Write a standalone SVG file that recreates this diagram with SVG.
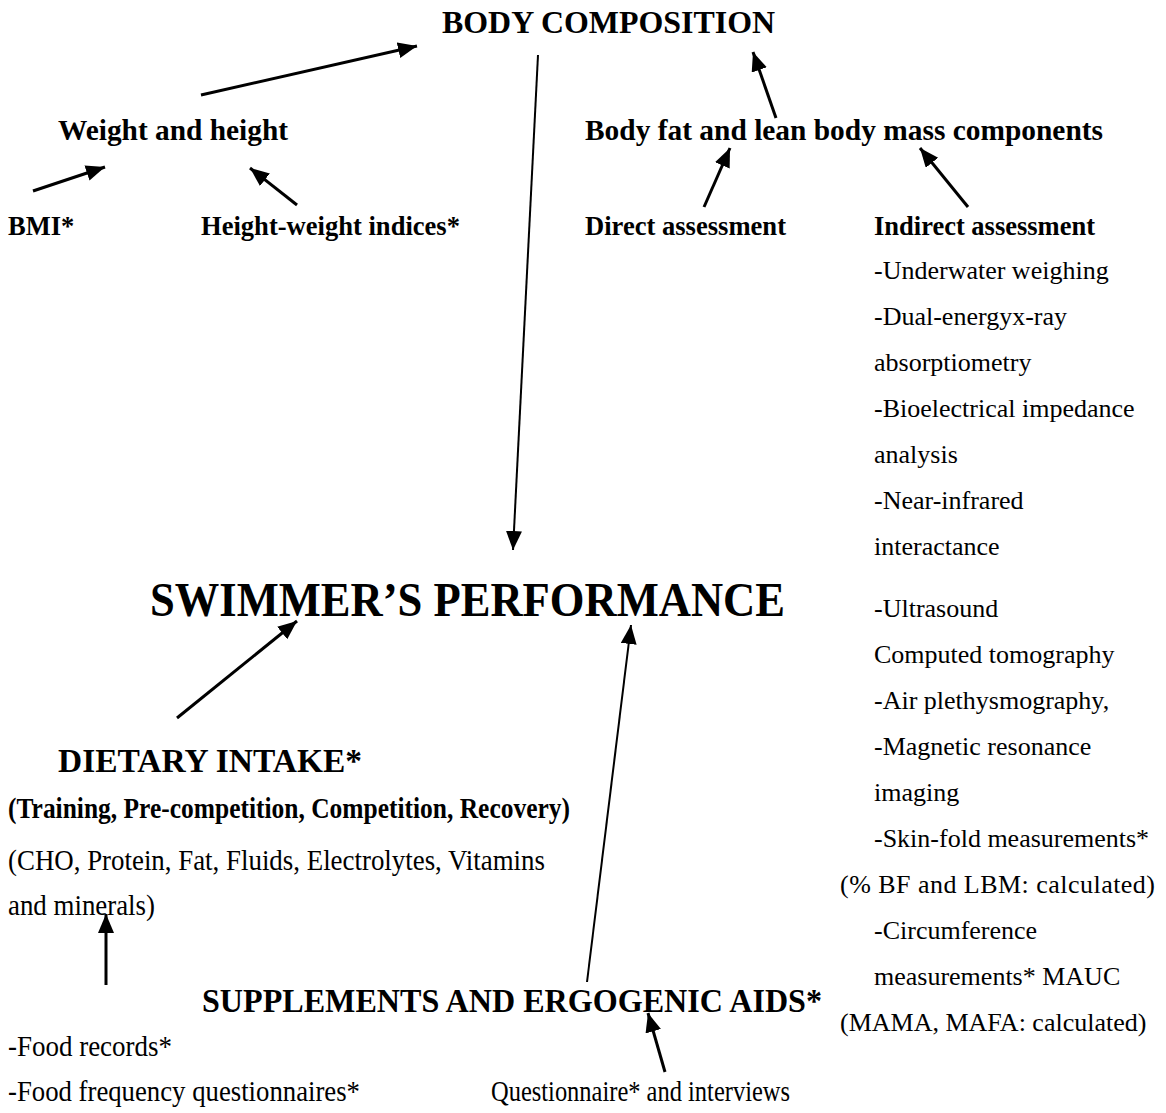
<svg xmlns="http://www.w3.org/2000/svg" width="1166" height="1113" viewBox="0 0 1166 1113">
<defs>
<marker id="ah" markerUnits="userSpaceOnUse" markerWidth="22" markerHeight="18" refX="19" refY="8" orient="auto">
<path d="M0,0 L19,8 L0,16 z" fill="#000"/>
</marker>
<style>
text{font-family:"Liberation Serif","Times New Roman",serif;fill:#000}
.b{font-weight:bold}
.h1{font-size:32px;font-weight:bold}
.h2{font-size:29px;font-weight:bold}
.h3{font-size:26.5px;font-weight:bold}
.big{font-size:49px;font-weight:bold}
.sec{font-size:33px;font-weight:bold}
.t{font-size:26px}
.n{font-size:29px}
.c{stroke:#000;stroke-width:3;fill:none;marker-end:url(#ah)}
.thin{stroke-width:2}
</style>
</defs>
<rect width="1166" height="1113" fill="#fff"/>
<g id="connectors">
<line class="c" x1="201" y1="95" x2="417" y2="46"/>
<line class="c" x1="33" y1="191" x2="105" y2="167"/>
<line class="c" x1="297" y1="205" x2="250" y2="168"/>
<line class="c thin" x1="538" y1="55" x2="513" y2="550"/>
<line class="c" x1="776" y1="118" x2="753" y2="52"/>
<line class="c" x1="704" y1="207" x2="730" y2="148"/>
<line class="c" x1="968" y1="207" x2="920" y2="148"/>
<line class="c" x1="177" y1="718" x2="297" y2="621"/>
<line class="c thin" x1="587" y1="982" x2="631" y2="625"/>
<line class="c" x1="106" y1="985" x2="106" y2="914"/>
<line class="c" x1="665" y1="1072" x2="648" y2="1013"/>
</g>
<g id="body-composition"><text class="h1" x="442" y="33" textLength="333" lengthAdjust="spacingAndGlyphs">BODY COMPOSITION</text></g>
<g id="weight-height"><text class="h2" x="58" y="140" textLength="230" lengthAdjust="spacingAndGlyphs">Weight and height</text></g>
<g id="body-fat"><text class="h2" x="585" y="140" textLength="518" lengthAdjust="spacingAndGlyphs">Body fat and lean body mass components</text></g>
<g id="bmi"><text class="h3" x="8" y="235">BMI*</text></g>
<g id="hw-indices"><text class="h3" x="201" y="235" textLength="259" lengthAdjust="spacingAndGlyphs">Height-weight indices*</text></g>
<g id="direct"><text class="h3" x="585" y="235" textLength="201" lengthAdjust="spacingAndGlyphs">Direct assessment</text></g>
<g id="indirect">
<text class="h3" x="874" y="235" textLength="221" lengthAdjust="spacingAndGlyphs">Indirect assessment</text>
<text class="t" x="874" y="279">-Underwater weighing</text>
<text class="t" x="874" y="325">-Dual-energyx-ray</text>
<text class="t" x="874" y="371">absorptiometry</text>
<text class="t" x="874" y="417">-Bioelectrical impedance</text>
<text class="t" x="874" y="463">analysis</text>
<text class="t" x="874" y="509">-Near-infrared</text>
<text class="t" x="874" y="555">interactance</text>
<text class="t" x="874" y="617">-Ultrasound</text>
<text class="t" x="874" y="663">Computed tomography</text>
<text class="t" x="874" y="709">-Air plethysmography,</text>
<text class="t" x="874" y="755">-Magnetic resonance</text>
<text class="t" x="874" y="801">imaging</text>
<text class="t" x="874" y="847">-Skin-fold measurements*</text>
<text class="t" x="840" y="893" textLength="315" lengthAdjust="spacing">(% BF and LBM: calculated)</text>
<text class="t" x="874" y="939">-Circumference</text>
<text class="t" x="874" y="985">measurements* MAUC</text>
<text class="t" x="840" y="1031">(MAMA, MAFA: calculated)</text>
</g>
<g id="swimmers-performance"><text class="big" x="150" y="616" textLength="635" lengthAdjust="spacingAndGlyphs">SWIMMER’S PERFORMANCE</text></g>
<g id="dietary-intake">
<text class="sec" x="58" y="772" textLength="304" lengthAdjust="spacingAndGlyphs">DIETARY INTAKE*</text>
<text class="n b" x="8" y="818" textLength="562" lengthAdjust="spacingAndGlyphs">(Training, Pre-competition, Competition, Recovery)</text>
<text class="n" x="8" y="870" textLength="537" lengthAdjust="spacingAndGlyphs">(CHO, Protein, Fat, Fluids, Electrolytes, Vitamins</text>
<text class="n" x="8" y="915" textLength="147" lengthAdjust="spacingAndGlyphs">and minerals)</text>
</g>
<g id="supplements"><text class="sec" x="202" y="1012" textLength="620" lengthAdjust="spacingAndGlyphs">SUPPLEMENTS AND ERGOGENIC AIDS*</text></g>
<g id="food-methods">
<text class="n" x="8" y="1056" textLength="164" lengthAdjust="spacingAndGlyphs">-Food records*</text>
<text class="n" x="8" y="1101" textLength="352" lengthAdjust="spacingAndGlyphs">-Food frequency questionnaires*</text>
</g>
<g id="questionnaire"><text class="n" x="491" y="1101" textLength="299" lengthAdjust="spacingAndGlyphs">Questionnaire* and interviews</text></g>
</svg>
